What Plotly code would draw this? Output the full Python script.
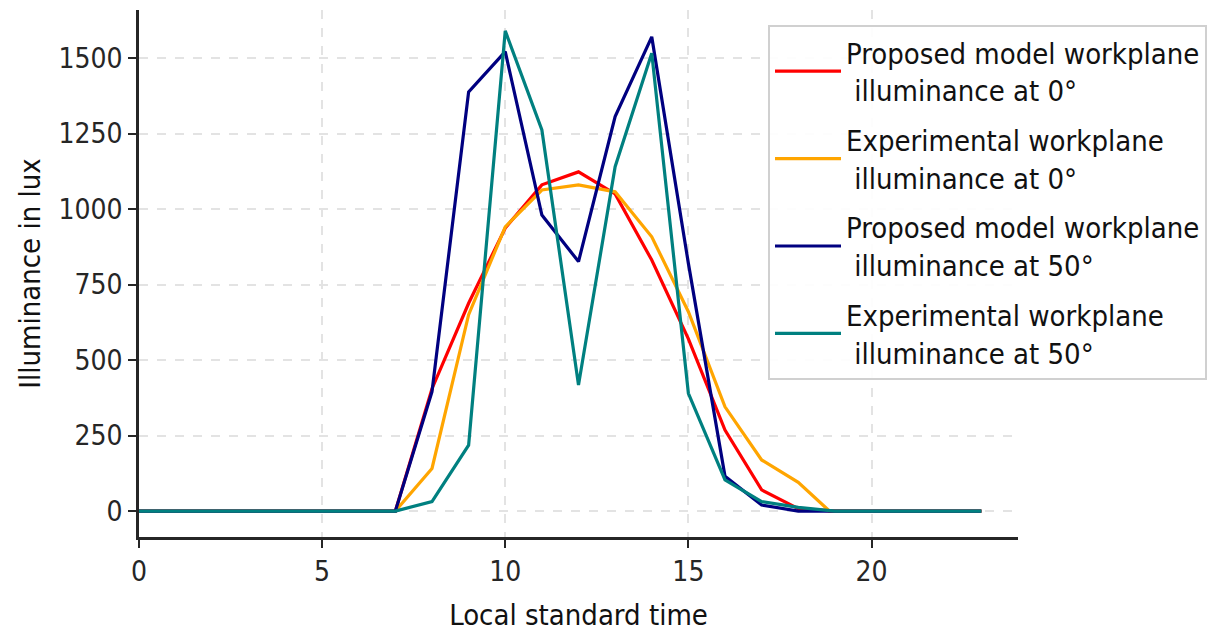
import plotly.graph_objects as go

hours = list(range(0, 24))

red_y = [0, 0, 0, 0, 0, 0, 0, 0, 405, 688, 937, 1080, 1123, 1050, 831, 570, 268, 70, 8, 0, 0, 0, 0, 0]
orange_x = list(range(0, 19)) + [18.85, 20, 21, 22, 23]
orange_y = [0, 0, 0, 0, 0, 0, 0, 0, 141, 650, 941, 1063, 1080, 1057, 908, 660, 345, 169, 95, 0, 0, 0, 0, 0]
navy_y = [0, 0, 0, 0, 0, 0, 0, 0, 395, 1388, 1521, 980, 826, 1306, 1570, 820, 115, 20, 0, 0, 0, 0, 0, 0]
teal_y = [0, 0, 0, 0, 0, 0, 0, 0, 31, 218, 1590, 1262, 417, 1140, 1516, 390, 103, 31, 12, 0, 0, 0, 0, 0]

names = [
    "Proposed model workplane<br>\u00a0illuminance at 0°",
    "Experimental workplane<br>\u00a0illuminance at 0°",
    "Proposed model workplane<br>\u00a0illuminance at 50°",
    "Experimental workplane<br>\u00a0illuminance at 50°",
]
colors = ["#ff0000", "#ffa500", "#000080", "#008080"]
xs = [hours, orange_x, hours, hours]
ys = [red_y, orange_y, navy_y, teal_y]

x_ticks = [0, 5, 10, 15, 20]
y_ticks = [0, 250, 500, 750, 1000, 1250, 1500]

FONT = "DejaVu Sans Condensed, DejaVu Sans, sans-serif"

W, H = 1215, 627  # page body adds an 8px offset

fig = go.Figure()
for i, (x, y, n, c) in enumerate(zip(xs, ys, names, colors)):
    fig.add_trace(go.Scatter(x=x, y=y, mode="lines", name=n, legendgroup=f"g{i}",
                             line=dict(color=c, width=3.2)))

fig.update_layout(
    width=W, height=H,
    margin=dict(l=131, r=205, t=2, b=98, autoexpand=False),
    plot_bgcolor="white", paper_bgcolor="white",
    font=dict(family=FONT, size=28, color="#262626"),
    showlegend=True,
    legend=dict(
        xref="container", yref="container",
        x=760 / W, y=1 - 17 / H, xanchor="left", yanchor="top",
        bgcolor="rgba(255,255,255,0.9)", bordercolor="#d0d0d0", borderwidth=2,
        font=dict(family=FONT, size=29, color="#111111"),
        itemwidth=66, traceorder="grouped", tracegroupgap=9, maxheight=600,
    ),
)
fig.update_xaxes(
    range=[0, 24], tickvals=x_ticks, ticktext=[str(v) for v in x_ticks],
    showline=True, linecolor="#262626", linewidth=2.5, mirror=False,
    ticks="outside", ticklen=8, tickwidth=2, tickcolor="#262626",
    showgrid=True, gridcolor="#e3e3e3", griddash="dash", gridwidth=1.5,
    zeroline=False,
    title=dict(text="Local standard time", standoff=18,
               font=dict(family=FONT, size=29, color="#111111")),
)
fig.update_yaxes(
    range=[-86, 1659], tickvals=y_ticks, ticktext=[str(v) for v in y_ticks],
    showline=True, linecolor="#262626", linewidth=2.5, mirror=False,
    ticks="outside", ticklen=8, tickwidth=2, tickcolor="#262626",
    showgrid=True, gridcolor="#e3e3e3", griddash="dash", gridwidth=1.5,
    zeroline=False,
    title=dict(text="Illuminance in lux", standoff=10,
               font=dict(family=FONT, size=29, color="#111111")),
)

fig.write_html("out.html")
